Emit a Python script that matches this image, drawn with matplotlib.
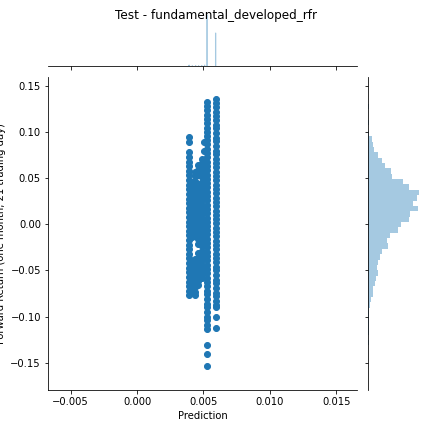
import numpy as np
import matplotlib
matplotlib.use('Agg')
import matplotlib.pyplot as plt

title = 'Test - fundamental_developed_rfr'
xlab = 'Prediction'
ylab = 'Forward Return (one month, 21 trading day)'

# scatter columns (prediction value, returns)
right_x = 0.00593
right_y = [0.136, 0.132, 0.127, 0.122, 0.118, 0.113, 0.108, 0.104, 0.099, 0.094,
           0.090, 0.085, 0.080, 0.076, 0.071, 0.066, 0.062, 0.057, 0.052, 0.048,
           0.043, 0.038, 0.034, 0.029, 0.024, 0.020, 0.015, 0.010, 0.006, 0.001,
           -0.004, -0.008, -0.013, -0.018, -0.022, -0.027, -0.032, -0.036, -0.041,
           -0.046, -0.050, -0.055, -0.060, -0.064, -0.069, -0.074, -0.078, -0.083,
           -0.087, -0.090, -0.101, -0.112]
mid_x = 0.00528
mid_y = [0.133, 0.128, 0.124, 0.119, 0.114, 0.110, 0.105, 0.100, 0.096, 0.091,
         0.087, 0.082, 0.077, 0.073, 0.068, 0.063, 0.059, 0.054, 0.049, 0.045,
         0.040, 0.035, 0.031, 0.026, 0.021, 0.017, 0.012, 0.007, 0.003, -0.002,
         -0.006, -0.011, -0.016, -0.020, -0.025, -0.030, -0.034, -0.039, -0.044,
         -0.048, -0.053, -0.058, -0.062, -0.067, -0.072, -0.076, -0.081, -0.086,
         -0.090, -0.095, -0.100, -0.104, -0.109, -0.114, -0.131, -0.141, -0.154]
left_x = 0.00388
left_y = [0.095, 0.089, 0.078, 0.073, 0.068, 0.063, 0.058, 0.053, 0.048, 0.043,
          0.038, 0.033, 0.028, 0.023, 0.018, 0.013, 0.008, 0.003, -0.002, -0.007,
          -0.012, -0.017, -0.022, -0.027, -0.032, -0.037, -0.042, -0.047, -0.052,
          -0.057, -0.062, -0.067, -0.072, -0.077]
blob1_x = 0.00414
blob1_y = [0.046, 0.041, 0.036, 0.031, 0.026, 0.021, 0.016, 0.011, 0.006, 0.001,
           -0.004, -0.009, -0.014, -0.040, -0.045, -0.050, -0.055, -0.060, -0.065,
           -0.070, -0.075]
blob2_x = 0.00440
blob2_y = [0.057, 0.052, 0.047, 0.042, 0.037, 0.032, 0.027, 0.022, 0.017, 0.012,
           0.007, 0.002, -0.003, -0.008, -0.013, -0.038, -0.043, -0.048, -0.053,
           -0.058, -0.063, -0.068, -0.073, -0.077]
blob3_x = 0.00462
blob3_y = [0.064, 0.059, 0.054, 0.044, 0.039, 0.034, 0.029, 0.024, 0.019, 0.014,
           0.009, 0.004, -0.001, -0.006, -0.011, -0.016, -0.021, -0.031, -0.036,
           -0.041, -0.046, -0.051, -0.056, -0.061, -0.066]
blob4_x = 0.00486
blob4_y = [0.071, 0.066, 0.061, 0.056, 0.051, 0.046, 0.041, 0.036, 0.031, 0.026,
           0.021, 0.016, 0.011, 0.006, 0.001, -0.004, -0.009, -0.014, -0.019,
           -0.024, -0.029, -0.034, -0.039, -0.044, -0.049, -0.054, -0.058]
extra_x = [0.00507, 0.00505]
extra_y = [0.089, 0.080]

# marginal histogram of returns: 50 bins, counts from bottom to top
ret_lo, ret_hi = -0.1546, 0.1364
ret_counts = [1, 1, 1, 0, 2, 1, 2, 2, 3, 2,
              3, 6, 8, 14, 14, 20, 23, 29, 26, 29,
              35, 41, 59, 57, 65, 89, 98, 122, 125, 149,
              134, 146, 152, 122, 104, 71, 68, 50, 41, 31,
              17, 14, 11, 3, 0, 4, 1, 1, 2, 1]
# marginal histogram of predictions (non-empty bins only)
pred_bins = [0.00388, 0.00392, 0.00414, 0.00440, 0.00462, 0.00486, 0.00507, 0.00525, 0.00590]
pred_counts = [16, 18, 6, 8, 6, 10, 20, 1100, 712]

xs = ([left_x] * len(left_y) + [blob1_x] * len(blob1_y) + [blob2_x] * len(blob2_y)
      + [blob3_x] * len(blob3_y) + [blob4_x] * len(blob4_y)
      + extra_x + [mid_x] * len(mid_y) + [right_x] * len(right_y))
ys = left_y + blob1_y + blob2_y + blob3_y + blob4_y + extra_y + mid_y + right_y

blue = '#1f77b4'
histc = '#a5c9e1'

fig = plt.figure(figsize=(6, 6), dpi=72)
ax = fig.add_axes([0.1111, 0.0972, 0.7153, 0.7245])
axx = fig.add_axes([0.1111, 0.8472, 0.7153, 0.1435], sharex=ax)
axy = fig.add_axes([0.8519, 0.0972, 0.1435, 0.7245], sharey=ax)

ax.scatter(xs, ys, s=36, color=blue)
ax.set_xlim(-0.0067, 0.01656)
ax.set_ylim(-0.1797, 0.1598)
ax.set_xticks([-0.005, 0.0, 0.005, 0.010, 0.015])
ax.set_yticks([-0.15, -0.10, -0.05, 0.0, 0.05, 0.10, 0.15])
ax.set_xlabel(xlab)
ax.set_ylabel(ylab)
for s in ['top', 'right']:
    ax.spines[s].set_visible(False)

# top marginal
axx.bar(pred_bins, pred_counts, width=0.00004, align='edge', color=histc,
        edgecolor=histc, linewidth=0.8, snap=False)
axx.set_ylim(0, 1100 * 62 / 51.0)
axx.tick_params(labelbottom=False, left=False, labelleft=False)
for s in ['top', 'right', 'left']:
    axx.spines[s].set_visible(False)

# right marginal
edges = np.linspace(ret_lo, ret_hi, len(ret_counts) + 1)
axy.barh(edges[:-1], ret_counts, height=edges[1] - edges[0], align='edge',
         color=histc, linewidth=0)
axy.set_xlim(0, 152 * 62 / 50.7)
axy.tick_params(labelleft=False, bottom=False, labelbottom=False)
for s in ['top', 'right', 'bottom']:
    axy.spines[s].set_visible(False)

fig.suptitle(title)
plt.savefig('out.png', dpi=72)
